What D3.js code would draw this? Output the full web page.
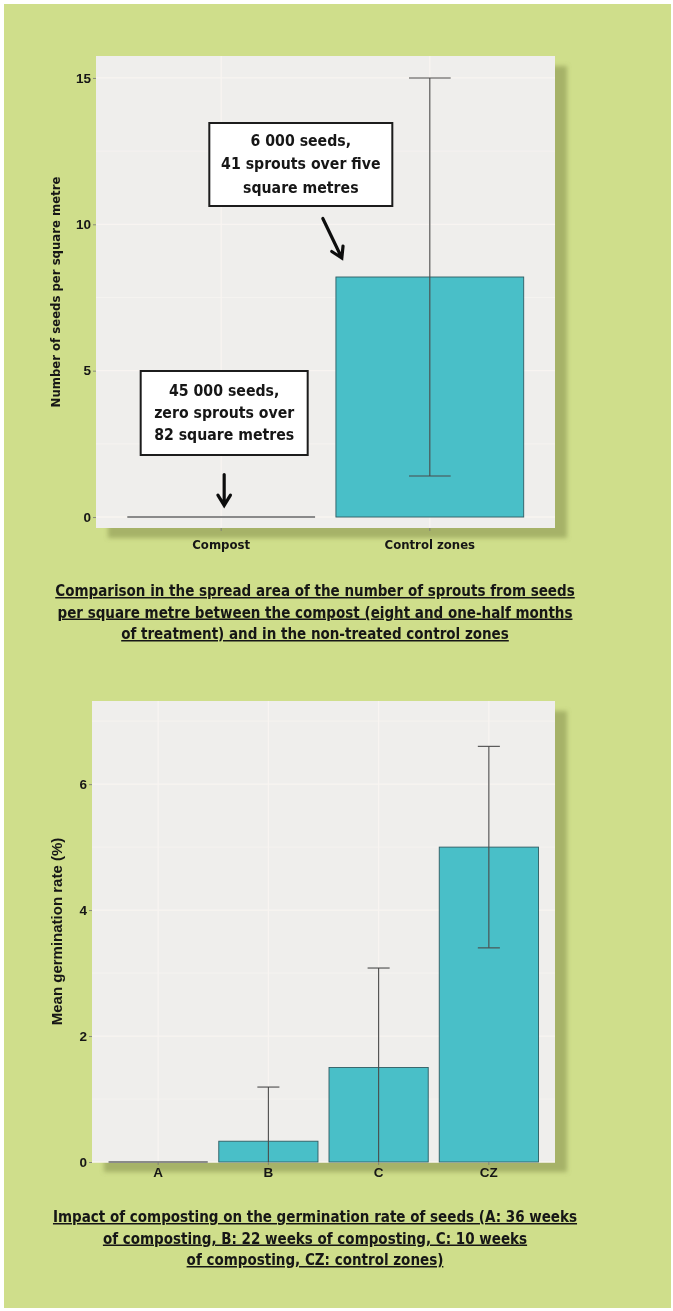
<!DOCTYPE html>
<html>
<head>
<meta charset="utf-8">
<script src="https://cdn.jsdelivr.net/npm/d3@7"></script>
<style>
  html, body { margin: 0; padding: 0; background: #ffffff; }
  svg { display: block; }
</style>
</head>
<body>
<script>
// ---- Data: seed sprouts per square metre ----
const sproutCategories = ["Compost", "Control zones"];
const sproutMeans = [0, 8.2];
const sproutErrors = [0, 6.8];
const sproutTicks = [0, 5, 10, 15];

// ---- Data: germination rate by composting duration ----
const germCategories = ["A", "B", "C", "CZ"];
const germMeans = [0, 0.33, 1.5, 5.0];
const germErrors = [0, 0.86, 1.58, 1.6];
const germTicks = [0, 2, 4, 6];

// ---- Text ----
const annotationControl = ["6 000 seeds,", "41 sprouts over five", "square metres"];
const annotationCompost = ["45 000 seeds,", "zero sprouts over", "82 square metres"];
const captionTop = [
  "Comparison in the spread area of the number of sprouts from seeds",
  "per square metre between the compost (eight and one-half months",
  "of treatment) and in the non-treated control zones"
];
const captionBottom = [
  "Impact of composting on the germination rate of seeds (A: 36 weeks",
  "of composting, B: 22 weeks of composting, C: 10 weeks",
  "of composting, CZ: control zones)"
];

// ---- Styling ----
const W = 673, H = 1311;
const GREEN = "#cfde8b";
const SHADOW = "#a6b267";
const PANEL = "#efeeec";
const GRID = "#f8f4f1";
const BAR = "#48bfc8";
const BAR_STROKE = "#2f5c62";
const COND = "'Liberation Sans Narrow','DejaVu Sans Condensed','Open Sans',sans-serif";
const ARIAL = "'Liberation Sans', Arial, sans-serif";

const svg = d3.select("body").append("svg").attr("width", W).attr("height", H);

const defs = svg.append("defs");
defs.append("filter").attr("id", "soft").attr("x", "-10%").attr("y", "-10%")
  .attr("width", "120%").attr("height", "120%")
  .append("feGaussianBlur").attr("stdDeviation", 2.2);
defs.append("filter").attr("id", "haze")
  .append("feGaussianBlur").attr("stdDeviation", 0.35);

// page background with thin white frame
svg.append("rect").attr("width", W).attr("height", H).attr("fill", "#ffffff");
svg.append("rect").attr("x", 4).attr("y", 4).attr("width", W - 6).attr("height", H - 7).attr("fill", GREEN);

const root = svg.append("g").attr("filter", "url(#haze)");

function drawChart(opts) {
  const { x0, x1, y0, y1, categories, means, errors, ticks, yDomain, minor, catFont, catSize, yTitle, titleFont, titleSize, titleX, labelY } = opts;
  const g = root.append("g");

  const x = d3.scaleBand().domain(categories).range([x0, x1]).paddingInner(0.1).paddingOuter(0.15);
  const y = d3.scaleLinear().domain(yDomain).range([y1, y0]);

  // drop shadow behind the panel
  g.append("rect").attr("x", x0 + 12).attr("y", y0 + 10).attr("width", x1 - x0).attr("height", y1 - y0)
    .attr("fill", SHADOW).attr("filter", "url(#soft)");
  g.append("rect").attr("x", x0).attr("y", y0).attr("width", x1 - x0).attr("height", y1 - y0).attr("fill", PANEL);

  // grid
  g.append("g").selectAll("line").data(minor).join("line")
    .attr("x1", x0).attr("x2", x1).attr("y1", d => y(d)).attr("y2", d => y(d))
    .attr("stroke", GRID).attr("stroke-width", 0.7);
  g.append("g").selectAll("line").data(ticks).join("line")
    .attr("x1", x0).attr("x2", x1).attr("y1", d => y(d)).attr("y2", d => y(d))
    .attr("stroke", GRID).attr("stroke-width", 1.3);
  g.append("g").selectAll("line").data(categories).join("line")
    .attr("x1", d => x(d) + x.bandwidth() / 2).attr("x2", d => x(d) + x.bandwidth() / 2)
    .attr("y1", y0).attr("y2", y1)
    .attr("stroke", GRID).attr("stroke-width", 1.3);

  const rows = categories.map((c, i) => ({ c, m: means[i], e: errors[i] }));

  // bars (zero-height groups collapse to a grey line)
  g.append("g").selectAll("rect").data(rows.filter(r => r.m > 0)).join("rect")
    .attr("x", r => x(r.c)).attr("width", x.bandwidth())
    .attr("y", r => y(r.m)).attr("height", r => y(0) - y(r.m))
    .attr("fill", BAR).attr("stroke", BAR_STROKE).attr("stroke-width", 0.9);
  g.append("g").selectAll("line").data(rows.filter(r => r.m === 0)).join("line")
    .attr("x1", r => x(r.c)).attr("x2", r => x(r.c) + x.bandwidth())
    .attr("y1", y(0)).attr("y2", y(0))
    .attr("stroke", "#8a8a8a").attr("stroke-width", 2.2);

  // error bars, clipped to the panel
  const capW = x.step() * 0.2;
  const eb = g.append("g").attr("stroke", "#4a4a4a").attr("stroke-width", 1.1);
  rows.filter(r => r.e > 0).forEach(r => {
    const cx = x(r.c) + x.bandwidth() / 2;
    const lo = r.m - r.e, hi = r.m + r.e;
    const yl = Math.min(y(Math.max(lo, yDomain[0])), y1);
    eb.append("line").attr("x1", cx).attr("x2", cx).attr("y1", y(hi)).attr("y2", yl);
    eb.append("line").attr("x1", cx - capW / 2).attr("x2", cx + capW / 2).attr("y1", y(hi)).attr("y2", y(hi));
    if (lo >= yDomain[0]) {
      eb.append("line").attr("x1", cx - capW / 2).attr("x2", cx + capW / 2).attr("y1", y(lo)).attr("y2", y(lo));
    }
  });

  // y axis
  const ya = g.append("g").attr("transform", `translate(${x0},0)`)
    .call(d3.axisLeft(y).tickValues(ticks).tickSize(3).tickPadding(2).tickFormat(d3.format("d")));
  ya.select(".domain").remove();
  ya.selectAll(".tick line").attr("stroke", "#777").attr("stroke-width", 0.8);
  ya.selectAll(".tick text").attr("font-family", ARIAL).attr("font-weight", "bold")
    .attr("font-size", 13.5).attr("fill", "#151515");

  // x axis
  const xa = g.append("g").attr("transform", `translate(0,${y1})`)
    .call(d3.axisBottom(x).tickSize(3).tickPadding(0));
  xa.select(".domain").remove();
  xa.selectAll(".tick line").attr("stroke", "#777").attr("stroke-width", 0.8);
  xa.selectAll(".tick text").attr("font-family", catFont).attr("font-weight", "bold")
    .attr("font-size", catSize).attr("fill", "#151515")
    .attr("dy", null).attr("y", labelY - y1).attr("dominant-baseline", "middle");

  // y title
  g.append("text")
    .attr("transform", `translate(${titleX},${(y0 + y1) / 2}) rotate(-90)`)
    .attr("text-anchor", "middle").attr("dominant-baseline", "middle")
    .attr("font-family", titleFont).attr("font-weight", "bold").attr("font-size", titleSize)
    .attr("fill", "#151515").text(yTitle);

  return { x, y, g };
}

const sproutChart = drawChart({
  x0: 96, x1: 555, y0: 56, y1: 528,
  categories: sproutCategories, means: sproutMeans, errors: sproutErrors,
  ticks: sproutTicks, yDomain: [-0.375, 15.75], minor: [2.5, 7.5, 12.5],
  catFont: COND, catSize: 13, labelY: 545,
  yTitle: "Number of seeds per square metre", titleFont: COND, titleSize: 13, titleX: 56
});

const germChart = drawChart({
  x0: 92, x1: 555, y0: 701, y1: 1162,
  categories: germCategories, means: germMeans, errors: germErrors,
  ticks: germTicks, yDomain: [0, 7.32], minor: [1, 3, 5, 7],
  catFont: ARIAL, catSize: 13.5, labelY: 1173,
  yTitle: "Mean germination rate (%)", titleFont: ARIAL, titleSize: 15, titleX: 58
});

// ---- annotation boxes with arrows ----
function callout(g, cx, boxTop, w, h, lines, lineGap) {
  g.append("rect").attr("x", cx - w / 2).attr("y", boxTop).attr("width", w).attr("height", h)
    .attr("fill", "#ffffff").attr("stroke", "#1a1a1a").attr("stroke-width", 2);
  const t = g.append("text").attr("text-anchor", "middle")
    .attr("font-family", COND).attr("font-weight", "bold").attr("font-size", 15.7).attr("fill", "#151515");
  const firstY = boxTop + h / 2 - lineGap * (lines.length - 1) / 2;
  lines.forEach((l, i) => t.append("tspan").attr("x", cx).attr("y", firstY + i * lineGap)
    .attr("dominant-baseline", "middle").text(l));
}
function arrow(g, xa, ya, xb, yb) {
  const ang = Math.atan2(yb - ya, xb - xa), hl = 12, spread = 0.55;
  const p = d3.path();
  p.moveTo(xa, ya); p.lineTo(xb, yb);
  p.moveTo(xb - hl * Math.cos(ang - spread), yb - hl * Math.sin(ang - spread));
  p.lineTo(xb, yb);
  p.lineTo(xb - hl * Math.cos(ang + spread), yb - hl * Math.sin(ang + spread));
  g.append("path").attr("d", p.toString()).attr("fill", "none")
    .attr("stroke", "#111").attr("stroke-width", 3.2).attr("stroke-linecap", "round").attr("stroke-linejoin", "miter");
}

const sx = sproutChart.x, sy = sproutChart.y;
const ctrlX = sx("Control zones") + sx.bandwidth() / 2;
const compX = sx("Compost") + sx.bandwidth() / 2;
callout(sproutChart.g, ctrlX - 129, 123, 183, 83, annotationControl, 23.5);
arrow(sproutChart.g, ctrlX - 107, sy(10.2), ctrlX - 88, sy(8.85));
callout(sproutChart.g, compX + 3, 371, 167, 84, annotationCompost, 22);
arrow(sproutChart.g, compX + 3, sy(1.45), compX + 3, sy(0.4));

// ---- captions ----
function caption(lines, y0, gap) {
  const t = root.append("text").attr("text-anchor", "middle")
    .attr("font-family", COND).attr("font-weight", "bold").attr("font-size", 15)
    .attr("fill", "#151515").style("text-decoration", "underline");
  lines.forEach((l, i) => t.append("tspan").attr("x", 315).attr("y", y0 + i * gap).text(l));
}
caption(captionTop, 596, 21.5);
caption(captionBottom, 1222, 21.5);
</script>
</body>
</html>
